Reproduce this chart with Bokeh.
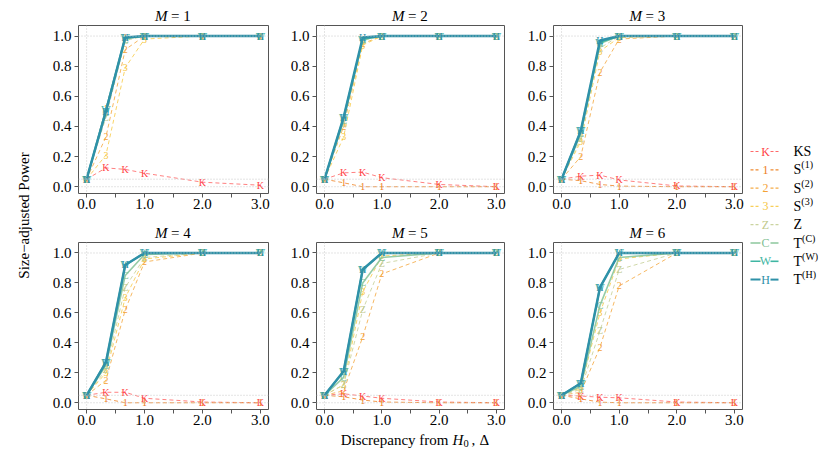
import math
from bokeh.plotting import figure
from bokeh.layouts import row, column
from bokeh.models import Range1d, FixedTicker, PrintfTickFormatter, Span
from bokeh.core.properties import value
from bokeh.embed import file_html
from bokeh.resources import INLINE

FONT = "Liberation Serif"

# ---------------- data ----------------
delta = [0.0, 1/3, 2/3, 1.0, 2.0, 3.0]
m_values = [1, 2, 3, 4, 5, 6]
x_ticks = [0.0, 1.0, 2.0, 3.0]
x_minor_ticks = [0.5, 1.5, 2.5]
y_ticks = [0.0, 0.2, 0.4, 0.6, 0.8, 1.0]
ref_levels = [0.0, 0.05, 1.0]

power_ks = [
    [0.05, 0.125, 0.115, 0.09, 0.03, 0.01],
    [0.05, 0.092, 0.097, 0.06, 0.015, 0.0],
    [0.05, 0.07, 0.077, 0.045, 0.005, 0.0],
    [0.05, 0.07, 0.07, 0.03, 0.005, 0.0],
    [0.05, 0.06, 0.045, 0.03, 0.005, 0.0],
    [0.05, 0.045, 0.037, 0.033, 0.005, 0.0],
]
power_s1 = [
    [0.05, 0.52, 0.99, 1.0, 1.0, 1.0],
    [0.05, 0.026, 0.0, 0.0, 0.0, 0.0],
    [0.05, 0.04, 0.015, 0.004, 0.0, 0.0],
    [0.05, 0.026, 0.0, 0.0, 0.0, 0.0],
    [0.05, 0.04, 0.018, 0.005, 0.0, 0.0],
    [0.05, 0.026, 0.004, 0.0, 0.0, 0.0],
]
power_s2 = [
    [0.05, 0.33, 0.91, 1.0, 1.0, 1.0],
    [0.05, 0.40, 0.95, 1.0, 1.0, 1.0],
    [0.05, 0.20, 0.76, 0.98, 1.0, 1.0],
    [0.05, 0.15, 0.62, 0.94, 1.0, 1.0],
    [0.05, 0.08, 0.44, 0.86, 1.0, 1.0],
    [0.05, 0.07, 0.37, 0.78, 1.0, 1.0],
]
power_s3 = [
    [0.05, 0.21, 0.79, 0.98, 1.0, 1.0],
    [0.05, 0.33, 0.94, 1.0, 1.0, 1.0],
    [0.05, 0.30, 0.90, 0.99, 1.0, 1.0],
    [0.05, 0.20, 0.70, 0.96, 1.0, 1.0],
    [0.05, 0.12, 0.74, 0.98, 1.0, 1.0],
    [0.05, 0.10, 0.60, 0.96, 1.0, 1.0],
]
power_z = [
    [0.05, 0.46, 0.97, 1.0, 1.0, 1.0],
    [0.05, 0.42, 0.97, 1.0, 1.0, 1.0],
    [0.05, 0.32, 0.92, 1.0, 1.0, 1.0],
    [0.05, 0.22, 0.77, 0.97, 1.0, 1.0],
    [0.05, 0.12, 0.62, 0.93, 1.0, 1.0],
    [0.05, 0.09, 0.48, 0.89, 1.0, 1.0],
]
power_tc = [
    [0.05, 0.49, 0.98, 1.0, 1.0, 1.0],
    [0.05, 0.44, 0.98, 1.0, 1.0, 1.0],
    [0.05, 0.35, 0.95, 1.0, 1.0, 1.0],
    [0.05, 0.25, 0.85, 0.99, 1.0, 1.0],
    [0.05, 0.17, 0.80, 0.97, 1.0, 1.0],
    [0.05, 0.11, 0.65, 0.97, 1.0, 1.0],
]
power_tw = [
    [0.05, 0.51, 0.99, 1.0, 1.0, 1.0],
    [0.05, 0.46, 0.98, 1.0, 1.0, 1.0],
    [0.05, 0.37, 0.96, 1.0, 1.0, 1.0],
    [0.05, 0.27, 0.92, 1.0, 1.0, 1.0],
    [0.05, 0.21, 0.89, 1.0, 1.0, 1.0],
    [0.05, 0.13, 0.77, 1.0, 1.0, 1.0],
]
power_th = [
    [0.05, 0.50, 0.99, 1.0, 1.0, 1.0],
    [0.05, 0.46, 0.99, 1.0, 1.0, 1.0],
    [0.05, 0.37, 0.97, 1.0, 1.0, 1.0],
    [0.05, 0.27, 0.92, 1.0, 1.0, 1.0],
    [0.05, 0.21, 0.89, 1.0, 1.0, 1.0],
    [0.05, 0.13, 0.77, 1.0, 1.0, 1.0],
]

series_power = [power_ks, power_s1, power_s2, power_s3, power_z, power_tc, power_tw, power_th]
series_marker = ["K", "1", "2", "3", "Z", "C", "W", "H"]
legend_main = ["KS", "S", "S", "S", "Z", "T", "T", "T"]
legend_sup = ["", "(1)", "(2)", "(3)", "", "(C)", "(W)", "(H)"]
title_var = "M"
x_label_parts = ["Discrepancy from", "H", "0", ",", "\u0394"]
y_label = "Size\u2212adjusted Power"

# ---------------- styles ----------------
text_colors = ["#FF3F46", "#EE7D1B", "#F4A235", "#F6C640", "#BFC98C", "#7FC093", "#3DB5A2", "#2D8FA7"]
line_colors = ["#FF6A6A", "#F08A30", "#F5AC48", "#F8CF58", "#CBD4A0", "#8CC79C", "#3FB6A3", "#2F91A8"]
line_dashes = ["4 3", "4 3", "4 3", "4 3", "4 3", "solid", "solid", "solid"]
line_widths = [1, 1, 1, 1, 1, 1.6, 1.8, 2.5]
line_alphas = [0.85, 0.85, 0.85, 0.9, 0.9, 0.9, 1.0, 1.0]

AX_COL = "#555555"
X_RANGE = (-0.14, 3.14)
Y_RANGE = (-0.045, 1.07)
FS = "15px"

col_left = [40, 34, 35]
col_right = [14, 14, 6]
col_frame = [190, 188, 189]
title_h = [24, 18]
title_mid = [15.6, 9.6]
row_top = [1, 1]
row_bottom = [30, 22]
row_frame = [168, 167]
XLAB_H = 20
YLAB_W = 38
LEG_W = 74


def blank(width, height, xr, yr):
    f = figure(width=width, height=height, x_range=Range1d(*xr), y_range=Range1d(*yr),
               min_border=0, x_axis_location=None, y_axis_location=None,
               output_backend="svg", toolbar_location=None, title=None)
    f.grid.visible = False
    f.outline_line_color = None
    f.background_fill_color = "white"
    f.border_fill_color = "white"
    return f


def make_title(i):
    c = i % 3
    r = i // 3
    w = col_left[c] + col_frame[c] + col_right[c]
    h = title_h[r]
    t = blank(w, h, (0, w), (h, 0))
    cx = col_left[c] + col_frame[c] / 2.0
    ym = title_mid[r]
    t.text(x=[cx - 6], y=[ym], text=[title_var], text_font=value(FONT),
           text_font_style="italic", text_font_size=FS, text_align="right",
           text_baseline="middle", text_color="black")
    t.text(x=[cx - 2.5], y=[ym], text=["= %d" % m_values[i]], text_font=value(FONT),
           text_font_size=FS, text_align="left", text_baseline="middle",
           text_color="black")
    return t


def make_panel(i):
    c = i % 3
    r = i // 3
    p = figure(
        width=col_left[c] + col_frame[c] + col_right[c],
        height=row_top[r] + row_frame[r] + row_bottom[r],
        min_border_left=col_left[c], min_border_right=col_right[c],
        min_border_top=row_top[r], min_border_bottom=row_bottom[r],
        x_range=Range1d(*X_RANGE), y_range=Range1d(*Y_RANGE),
        output_backend="svg", toolbar_location=None, title=None,
    )
    p.background_fill_color = "white"
    p.border_fill_color = "white"
    p.outline_line_color = AX_COL
    p.outline_line_width = 1
    p.grid.visible = False

    p.xaxis.ticker = FixedTicker(ticks=x_ticks, minor_ticks=x_minor_ticks)
    p.yaxis.ticker = FixedTicker(ticks=y_ticks, minor_ticks=[])
    p.xaxis.formatter = PrintfTickFormatter(format="%.1f")
    p.yaxis.formatter = PrintfTickFormatter(format="%.1f")
    for ax in (p.xaxis, p.yaxis):
        ax.axis_line_color = None
        ax.major_tick_line_color = AX_COL
        ax.minor_tick_line_color = AX_COL
        ax.major_tick_out = 4
        ax.major_tick_in = 0
        ax.minor_tick_out = 4
        ax.minor_tick_in = 0
        ax.major_label_text_font = FONT
        ax.major_label_text_font_size = FS
        ax.major_label_text_color = "black"
    p.xaxis.major_label_standoff = 1
    p.yaxis.major_label_standoff = 3

    for lv in ref_levels:
        p.add_layout(Span(location=lv, dimension="width", line_color="#c8c8c8",
                          line_dash="1 2", line_width=1))
    p.add_layout(Span(location=0.0, dimension="height", line_color="#c8c8c8",
                      line_dash="1 2", line_width=1))

    for s in range(len(series_power)):
        yv = series_power[s][i]
        p.line(delta, yv, line_color=line_colors[s], line_dash=line_dashes[s],
               line_width=line_widths[s], line_alpha=line_alphas[s])
        p.text(delta, yv, text=[series_marker[s]] * len(delta),
               text_font=value(FONT), text_font_size="10px",
               text_align="center", text_baseline="middle",
               text_color=text_colors[s])
    return p


titles = [make_title(i) for i in range(6)]
panels = [make_panel(i) for i in range(6)]

GRID_W = sum(col_left) + sum(col_frame) + sum(col_right)
TOTAL_H = (title_h[0] + row_top[0] + row_frame[0] + row_bottom[0]
           + title_h[1] + row_top[1] + row_frame[1] + row_bottom[1] + XLAB_H)

# x label strip (x in page pixels; y measured from the strip top)
xl = blank(GRID_W, XLAB_H, (YLAB_W, YLAB_W + GRID_W), (XLAB_H, 0))
xm = 8.4
xl.text(x=[448], y=[xm], text=[x_label_parts[0]], text_font=value(FONT), text_font_size=FS,
        text_align="right", text_baseline="middle", text_color="black")
xl.text(x=[452], y=[xm], text=[x_label_parts[1]], text_font=value(FONT), text_font_size=FS,
        text_font_style="italic", text_align="left", text_baseline="middle", text_color="black")
xl.text(x=[463], y=[xm + 4], text=[x_label_parts[2]], text_font=value(FONT), text_font_size="10.5px",
        text_align="left", text_baseline="middle", text_color="black")
xl.text(x=[471], y=[xm], text=[x_label_parts[3]], text_font=value(FONT), text_font_size=FS,
        text_align="left", text_baseline="middle", text_color="black")
xl.text(x=[479], y=[xm], text=[x_label_parts[4]], text_font=value(FONT), text_font_size=FS,
        text_align="left", text_baseline="middle", text_color="black")

# y label strip
ylab = blank(YLAB_W, TOTAL_H, (0, YLAB_W), (TOTAL_H, 0))
ylab.text(x=[23], y=[215], text=[y_label], angle=math.pi / 2,
          text_font=value(FONT), text_font_size=FS, text_align="center",
          text_baseline="alphabetic", text_color="black")

# legend strip (page coordinates)
leg_x0 = YLAB_W + GRID_W
leg = blank(LEG_W, TOTAL_H, (leg_x0, leg_x0 + LEG_W), (TOTAL_H, 0))
main_w = {"KS": 18, "S": 7.8, "Z": 8.5, "T": 8.6}
for s in range(len(series_marker)):
    yy = 151 + 18.3 * s
    dash = "3 2" if line_dashes[s] != "solid" else "solid"
    lw = 1.2 if s < 5 else (1.6 if s < 7 else 2.0)
    leg.segment(x0=[750, 770], y0=[yy, yy], x1=[760, 778], y1=[yy, yy],
                line_color=line_colors[s], line_dash=dash, line_width=lw)
    leg.text(x=[765], y=[yy], text=[series_marker[s]], text_font=value(FONT),
             text_font_size="12px", text_align="center", text_baseline="middle",
             text_color=text_colors[s])
    leg.text(x=[793], y=[yy], text=[legend_main[s]], text_font=value(FONT),
             text_font_size="14px", text_align="left", text_baseline="middle",
             text_color="black")
    if legend_sup[s]:
        leg.text(x=[793 + main_w[legend_main[s]]], y=[yy - 5], text=[legend_sup[s]],
                 text_font=value(FONT), text_font_size="10px", text_align="left",
                 text_baseline="middle", text_color="black")

grid = column(
    row(*titles[:3], spacing=0),
    row(*panels[:3], spacing=0),
    row(*titles[3:], spacing=0),
    row(*panels[3:], spacing=0),
    xl,
    spacing=0,
)
layout = row(ylab, grid, leg, spacing=0)

open("out.html", "w").write(file_html(layout, INLINE))
